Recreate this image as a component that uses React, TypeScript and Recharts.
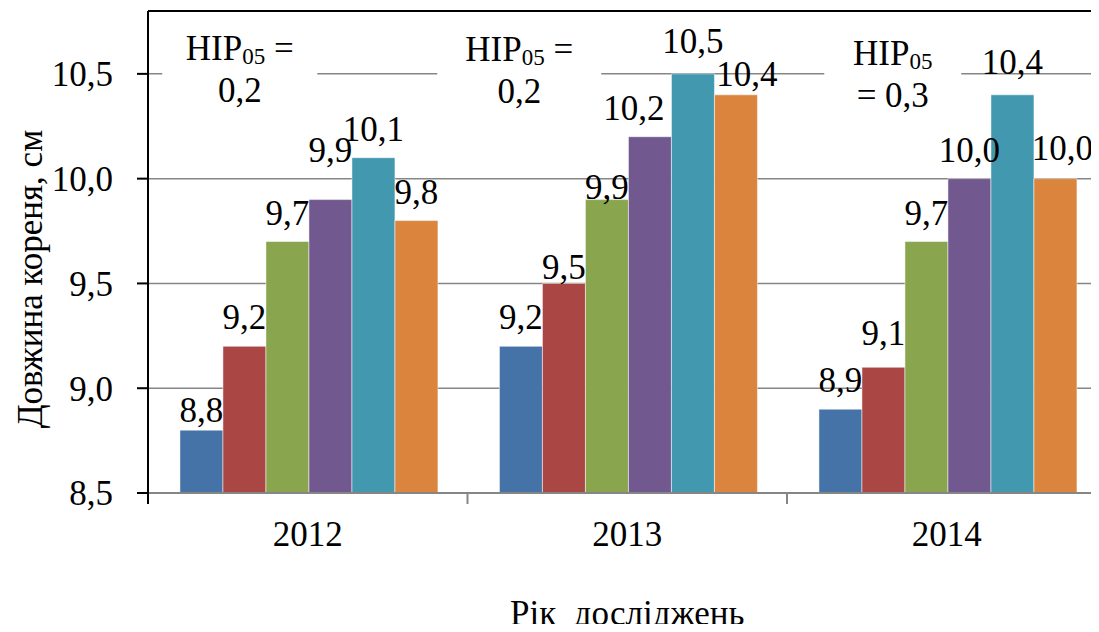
import React from 'react';
import { BarChart, Bar, XAxis, YAxis, CartesianGrid, LabelList, Label, ReferenceLine, ReferenceDot } from 'recharts';

const categories = ['2012', '2013', '2014'];
const series1 = [8.8, 9.2, 8.9];
const series2 = [9.2, 9.5, 9.1];
const series3 = [9.7, 9.9, 9.7];
const series4 = [9.9, 10.2, 10.0];
const series5 = [10.1, 10.5, 10.4];
const series6 = [9.8, 10.4, 10.0];
const yTicks = [8.5, 9.0, 9.5, 10.0, 10.5];
const yTitle = 'Довжина кореня, см';
const xTitle = 'Рік  досліджень';

const noteLine1 = ['HIP05 =', 'HIP05 =', 'HIP05'];
const noteLine2 = ['0,2', '0,2', '= 0,3'];

const FONT = "'Liberation Serif', 'Times New Roman', serif";
const colors = ['#4572A7', '#AA4643', '#89A54E', '#71588F', '#4198AF', '#DB843D'];
const keys = ['v1', 'v2', 'v3', 'v4', 'v5', 'v6'];
const allSeries = [series1, series2, series3, series4, series5, series6];

const data = categories.map((c, i) => {
  const row: any = { year: c };
  keys.forEach((k, s) => { row[k] = allSeries[s][i]; });
  return row;
});

// label nudges [dx, dy] per series / category (layout only)
const labelNudge = [
  [[0, 9], [0, 0], [0, 0]],
  [[0, 0], [0, 13], [0, -5]],
  [[0, 0], [0, 16], [0, 0]],
  [[0, -21], [-16, 0], [0, 0]],
  [[0, 0], [0, -4], [0, -4]],
  [[0, 0], [11, 8], [7, -2]],
];

// annotation layout relative to category centre (layout only)
const noteLayout = [
  { dx: -68, w: 155, b1: -14, b2: 28 },
  { dx: -108, w: 164, b1: -13, b2: 29 },
  { dx: -54, w: 137, b1: -9, b2: 33 },
];

const fmt = (v: number) => v.toFixed(1).replace('.', ',');

const makeLabel = (s: number) => (props: any) => {
  const vb = props.viewBox || props;
  const x = vb.x ?? props.x;
  const y = vb.y ?? props.y;
  const w = vb.width ?? props.width;
  const idx = props.index ?? 0;
  const nudge = labelNudge[s][idx] || [0, 0];
  return (
    <text x={x + w / 2 + nudge[0]} y={y - 17 + nudge[1]} textAnchor="middle" fontFamily={FONT} fontSize={35} fill="#000">
      {fmt(Number(props.value))}
    </text>
  );
};

const renderHip = (line: string) => {
  if (line.startsWith('HIP05')) {
    const rest = line.slice(5);
    return (
      <>
        <tspan>HIP</tspan>
        <tspan fontSize={23} dy={4}>05</tspan>
        <tspan dy={-4}>{rest}</tspan>
      </>
    );
  }
  return line;
};

const makeNote = (n: number) => (props: any) => {
  const vb = props.viewBox || {};
  const L = noteLayout[n];
  const cx = vb.x + (vb.width || 0) / 2 + L.dx;
  const cy = vb.y + (vb.height || 0) / 2;
  return (
    <g>
      <rect x={cx - L.w / 2} y={cy - 50} width={L.w} height={86} fill="#ffffff" />
      <text x={cx} y={cy + L.b1} textAnchor="middle" fontFamily={FONT} fontSize={35} fill="#000" style={{ whiteSpace: 'pre' }}>
        {renderHip(noteLine1[n])}
      </text>
      <text x={cx} y={cy + L.b2} textAnchor="middle" fontFamily={FONT} fontSize={35} fill="#000" style={{ whiteSpace: 'pre' }}>
        {noteLine2[n]}
      </text>
    </g>
  );
};

const renderYTitle = (props: any) => {
  const vb = props.viewBox || { x: 0, y: 11, width: 148, height: 482 };
  const cx = vb.x + 42;
  const cy = vb.y + vb.height / 2 + 27;
  return (
    <text transform={`translate(${cx},${cy}) rotate(-90)`} textAnchor="middle" fontFamily={FONT} fontSize={35} fill="#000">
      {yTitle}
    </text>
  );
};

const renderXTitle = (props: any) => {
  const vb = props.viewBox || { x: 148, y: 493, width: 958, height: 139 };
  return (
    <text x={vb.x + vb.width / 2} y={vb.y + vb.height - 7} textAnchor="middle" fontFamily={FONT} fontSize={35} fill="#000" style={{ whiteSpace: 'pre' }}>
      {xTitle}
    </text>
  );
};

const TICK_MARGIN = 28;
const renderXTick = (props: any) => {
  const { x, y, payload } = props;
  const half = payload && payload.offset ? payload.offset : 159.75;
  const axisY = y - TICK_MARGIN;
  const idx = payload?.index ?? 0;
  return (
    <g>
      {idx === 0 && (
        <line x1={x - half} x2={x - half} y1={axisY} y2={axisY + 11} stroke="#000" strokeWidth={2} />
      )}
      <line x1={x + half} x2={x + half} y1={axisY} y2={axisY + 11} stroke="#868686" strokeWidth={2} />
      <text x={x} y={y} dy="0.71em" textAnchor="middle" fontFamily={FONT} fontSize={35} fill="#000">
        {payload.value}
      </text>
    </g>
  );
};

export default function App() {
  return (
    <div style={{ margin: -8, width: 1099, height: 632, overflow: 'hidden', background: '#ffffff' }}>
      <BarChart
        width={1120}
        height={632}
        data={data}
        margin={{ top: 11, right: 13.5, bottom: 0, left: 0 }}
        barCategoryGap="10%"
        barGap={0}
      >
        <CartesianGrid vertical={false} stroke="#868686" strokeWidth={1.5} />
        <XAxis
          dataKey="year"
          height={139}
          tickLine={false}
          axisLine={{ stroke: '#868686', strokeWidth: 2 }}
          tickSize={0}
          tickMargin={TICK_MARGIN}
          interval={0}
          tick={renderXTick}
        >
          <Label content={renderXTitle} />
        </XAxis>
        <YAxis
          width={148}
          domain={[8.5, 10.8]}
          ticks={yTicks}
          allowDataOverflow
          tickFormatter={fmt}
          tickSize={11}
          tickMargin={24}
          tickLine={{ stroke: '#000', strokeWidth: 2 }}
          axisLine={{ stroke: '#000', strokeWidth: 2 }}
          tick={{ fontSize: 35, fill: '#000', fontFamily: FONT }}
        >
          <Label content={renderYTitle} />
        </YAxis>
        <ReferenceLine y={10.8} stroke="#000" strokeWidth={2} ifOverflow="visible" />
        {noteLayout.map((L, n) => (
          <ReferenceDot
            key={n}
            x={categories[n]}
            y={10.5}
            r={1}
            fill="none"
            stroke="none"
            ifOverflow="visible"
            label={{ content: makeNote(n) }}
          />
        ))}
        {keys.map((k, s) => (
          <Bar key={k} dataKey={k} fill={colors[s]} stroke="#ffffff" strokeOpacity={0.5} strokeWidth={1} isAnimationActive={false}>
            <LabelList dataKey={k} content={makeLabel(s)} />
          </Bar>
        ))}
      </BarChart>
    </div>
  );
}
